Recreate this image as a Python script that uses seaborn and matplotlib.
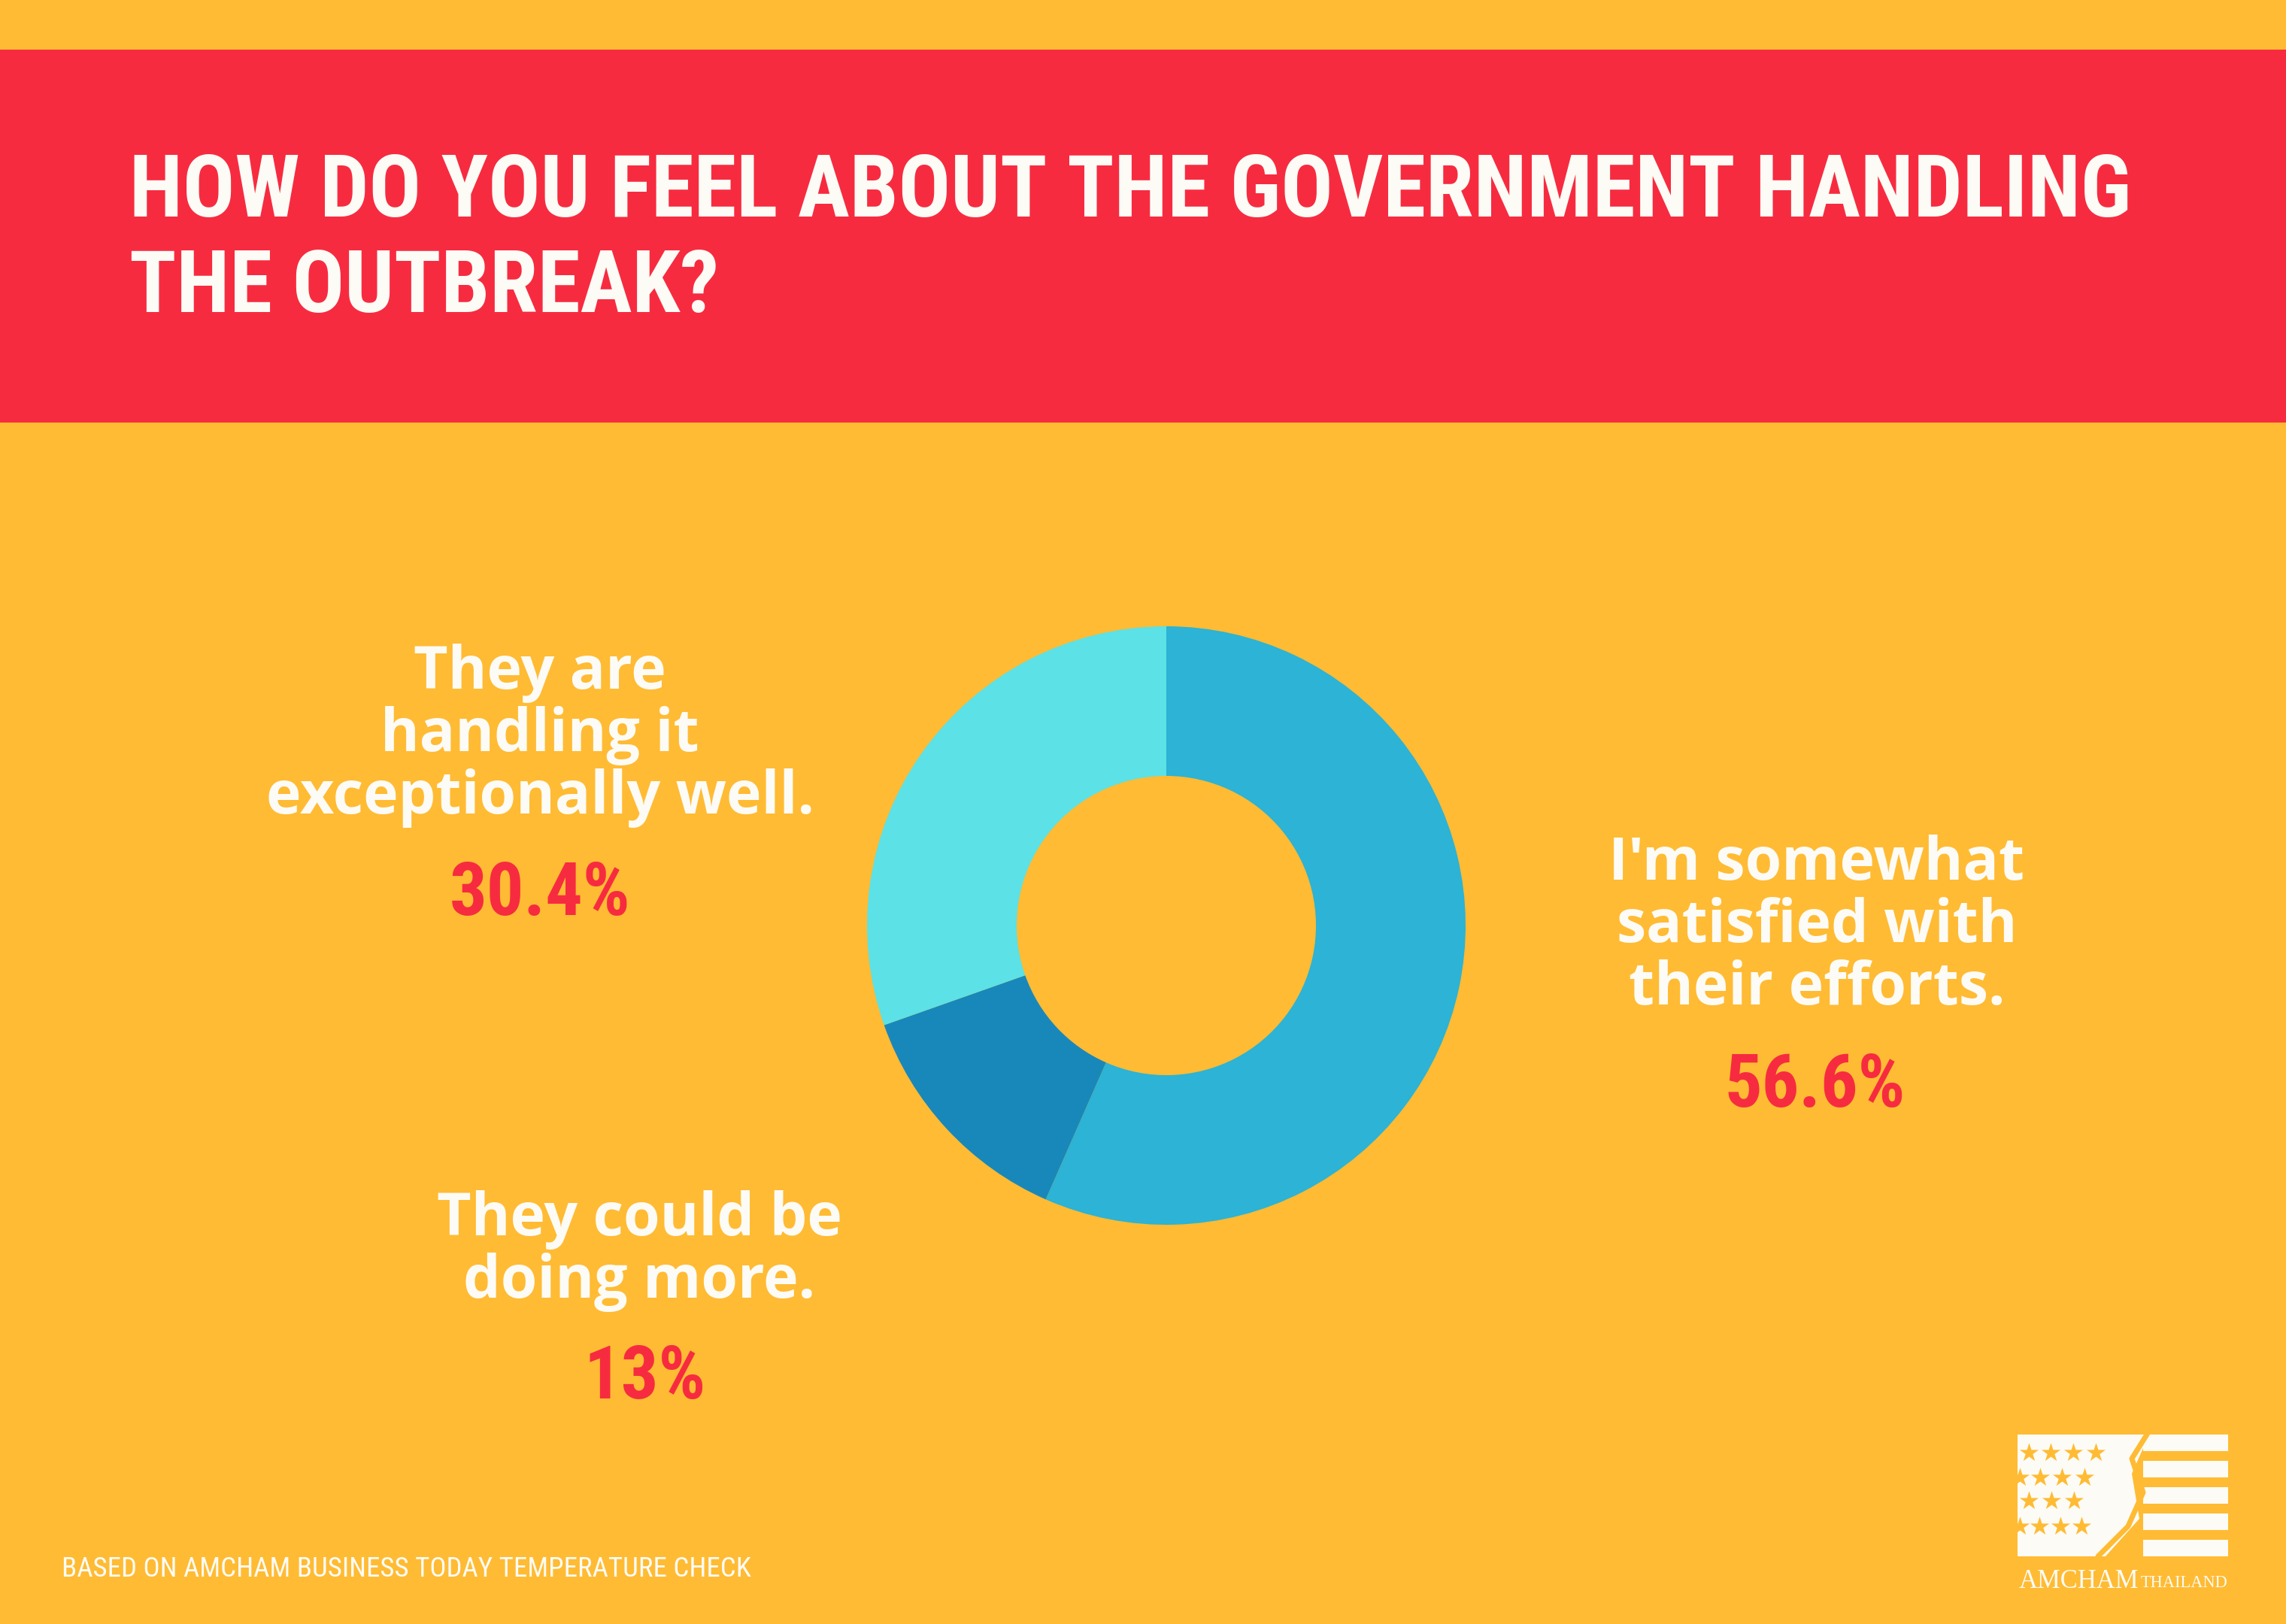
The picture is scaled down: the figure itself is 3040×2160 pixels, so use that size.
import matplotlib
matplotlib.use("Agg")
import matplotlib.pyplot as plt
from matplotlib import font_manager
from matplotlib.patches import Rectangle, Polygon
import seaborn as sns

# Datos de la encuesta
respuestas = [
    ["I'm somewhat", "satisfied with", "their efforts."],
    ["They could be", "doing more."],
    ["They are", "handling it", "exceptionally well."],
]
porcentajes = [56.6, 13.0, 30.4]
etiquetas_pct = ["56.6%", "13%", "30.4%"]
colores = ["#2CB3D5", "#1888BA", "#5CE1E6"]
titulo = ["HOW DO YOU FEEL ABOUT THE GOVERNMENT HANDLING", "THE OUTBREAK?"]
fuente = "BASED ON AMCHAM BUSINESS TODAY TEMPERATURE CHECK"

FONDO = "#FFBB33"
ROJO = "#F72B40"
BLANCO = "#FDFBF5"
W, H = 3040, 2160

sns.set_theme(style="white")

nombres = {f.name for f in font_manager.fontManager.ttflist}


def negrita(nombre):
    for f in font_manager.fontManager.ttflist:
        if f.name == nombre and f.weight in (600, 700, 800, "bold", "semibold"):
            return True
    return False


def elegir(opciones):
    for o in opciones:
        if o in nombres and negrita(o):
            return o
    return "DejaVu Sans"


f_titulo = elegir(["Oswald", "Liberation Sans Narrow", "Roboto Condensed", "Liberation Sans"])
f_texto = elegir(["Open Sans", "Noto Sans", "Lato"])

fig = plt.figure(figsize=(W / 200, H / 200), dpi=200, facecolor=FONDO)
bg = fig.add_axes([0, 0, 1, 1])
bg.set_xlim(0, W)
bg.set_ylim(H, 0)
bg.axis("off")
bg.set_facecolor(FONDO)

# banda roja del titulo
bg.add_patch(Rectangle((0, 66), W, 496, color=ROJO, lw=0))

# donut
cx, cy, r = 1551, 1231, 398
ax = fig.add_axes([(cx - r) / W, (H - cy - r) / H, 2 * r / W, 2 * r / H])
ax.pie(porcentajes, colors=colores, startangle=90, counterclock=False,
       radius=1, wedgeprops=dict(width=0.5, linewidth=0))
ax.set_xlim(-1, 1)
ax.set_ylim(-1, 1)
ax.axis("off")

fig.canvas.draw()
rend = fig.canvas.get_renderer()


def ajustar(textos, ancho):
    bb = max(t.get_window_extent(rend).width for t in textos)
    for t in textos:
        t.set_fontsize(t.get_fontsize() * ancho / bb)


# titulo
t1 = bg.text(172, 288, titulo[0], color=BLANCO, fontsize=40, fontweight="bold",
             family=f_titulo, ha="left", va="baseline")
t2 = bg.text(172, 415, titulo[1], color=BLANCO, fontsize=40, fontweight="bold",
             family=f_titulo, ha="left", va="baseline")
ajustar([t1], 2663)
t2.set_fontsize(t1.get_fontsize())

# etiquetas de cada respuesta
pos_texto = [(2416, [1170, 1253, 1336]), (850, [1643, 1726]), (718, [916, 999, 1082])]
pos_pct = [(2414, 1472), (858, 1860), (718, 1217)]

lineas = []
for lineas_r, (x, ys) in zip(respuestas, pos_texto):
    for linea, y in zip(lineas_r, ys):
        lineas.append(bg.text(x, y, linea, color=BLANCO, fontsize=26, fontweight="bold",
                              family=f_texto, ha="center", va="baseline"))
ajustar([lineas[-1]], 730)
for t in lineas:
    t.set_fontsize(lineas[-1].get_fontsize())

pcts = []
for etq, (x, y) in zip(etiquetas_pct, pos_pct):
    pcts.append(bg.text(x, y, etq, color=ROJO, fontsize=30, fontweight="bold",
                        family=f_titulo, ha="center", va="baseline"))
ajustar([pcts[0]], 241)
for t in pcts:
    t.set_fontsize(pcts[0].get_fontsize())

# pie de pagina
tf = bg.text(82, 2097, fuente, color=BLANCO, fontsize=14, family=f_titulo,
             ha="left", va="baseline")
ajustar([tf], 918)

# logo AMCHAM
for y0 in [1908, 1943, 1978, 2013, 2048]:
    bg.add_patch(Rectangle((2850, y0), 113, 22, color=BLANCO, lw=0))
bg.add_patch(Polygon([(2683, 1908), (2858, 1908), (2835, 1960), (2845, 2020),
                      (2800, 2070), (2683, 2070)], closed=True, color=BLANCO, lw=0))
estrellas_x = [[2698, 2727, 2757, 2787], [2686, 2713, 2742, 2772],
               [2698, 2728, 2758], [2686, 2712, 2740, 2768]]
estrellas_y = [1932, 1965, 1996, 2030]
for xs, y in zip(estrellas_x, estrellas_y):
    bg.scatter(xs, [y] * len(xs), marker="*", s=90, color=FONDO, lw=0, zorder=3)
bg.plot([2790, 2830, 2850, 2835, 2860], [2070, 2030, 1985, 1940, 1900],
        color=FONDO, lw=2.5, zorder=3)
ta = bg.text(2685, 2112, "AMCHAM", color=BLANCO, fontsize=11.5, family="Liberation Serif",
             ha="left", va="baseline")
tb = bg.text(2847, 2111, "THAILAND", color=BLANCO, fontsize=6.5, family="Liberation Serif",
             ha="left", va="baseline")
ajustar([ta], 160)
ajustar([tb], 116)

fig.savefig("out.png", dpi=200, facecolor=FONDO)
plt.close(fig)
